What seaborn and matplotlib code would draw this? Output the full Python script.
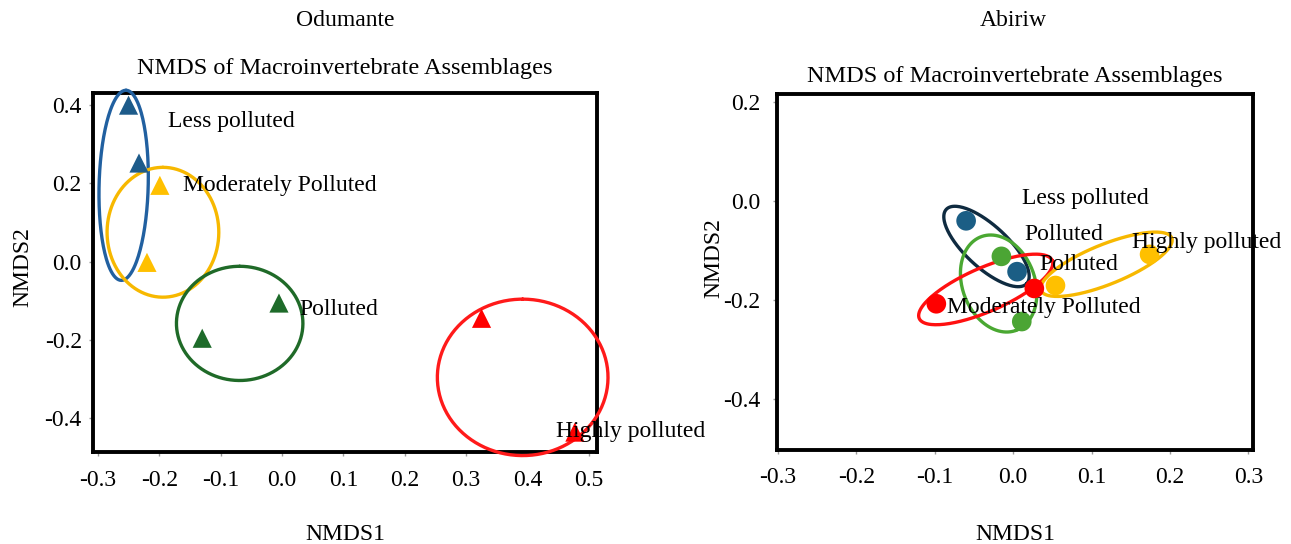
import numpy as np
import pandas as pd
import matplotlib
matplotlib.use("Agg")
import matplotlib.pyplot as plt
import seaborn as sns

# Odumante site scores (triangles)
odu_group = ["Less polluted", "Less polluted", "Moderately Polluted", "Moderately Polluted",
             "Polluted", "Polluted", "Highly polluted", "Highly polluted"]
odu_x = [-0.250, -0.233, -0.199, -0.220, -0.005, -0.130, 0.325, 0.477]
odu_y = [0.400, 0.252, 0.195, -0.002, -0.106, -0.196, -0.145, -0.436]

# Abiriw site scores (circles)
abi_group = ["Less polluted", "Less polluted", "Polluted", "Polluted",
             "Moderately Polluted", "Moderately Polluted", "Highly polluted", "Highly polluted"]
abi_x = [-0.060, 0.005, -0.015, 0.011, -0.098, 0.027, 0.054, 0.174]
abi_y = [-0.040, -0.143, -0.112, -0.244, -0.208, -0.177, -0.171, -0.108]

# group ellipses: centre, semi-axis a (dx, dy), semi-axis b (dx, dy)
odu_ell_group = ["Less polluted", "Moderately Polluted", "Polluted", "Highly polluted"]
odu_ell_c = [(-0.258, 0.195), (-0.194, 0.075), (-0.069, -0.158), (0.392, -0.296)]
odu_ell_a = [(0.004, 0.243), (0.0, 0.166), (0.0, 0.146), (0.0, 0.200)]
odu_ell_b = [(0.040, -0.002), (0.091, 0.0), (0.103, 0.0), (0.139, 0.0)]

abi_ell_group = ["Less polluted", "Polluted", "Moderately Polluted", "Highly polluted"]
abi_ell_c = [(-0.034, -0.092), (-0.0185, -0.167), (-0.035, -0.179), (0.119, -0.128)]
abi_ell_a = [(0.0514, -0.075), (0.022, -0.095), (0.0848, 0.0588), (0.0833, 0.0533)]
abi_ell_b = [(0.018, 0.0317), (0.0435, 0.025), (0.0113, -0.0406), (0.0096, -0.0375)]

# label positions
odu_lab = ["Less polluted", "Moderately Polluted", "Polluted", "Highly polluted"]
odu_lab_x = [-0.186, -0.162, 0.029, 0.446]
odu_lab_y = [0.359, 0.195, -0.122, -0.434]
abi_lab = ["Less polluted", "Polluted", "Polluted", "Highly polluted", "Moderately Polluted"]
abi_lab_x = [0.011, 0.014, 0.034, 0.152, -0.085]
abi_lab_y = [0.005, -0.068, -0.128, -0.084, -0.216]

odu_pts = {"Less polluted": "#1d5b8a", "Moderately Polluted": "#ffc000",
           "Polluted": "#1e6b2a", "Highly polluted": "#ff0000"}
odu_ring = {"Less polluted": "#2160a0", "Moderately Polluted": "#f7b800",
            "Polluted": "#1f6a28", "Highly polluted": "#ff1a1a"}
abi_pts = {"Less polluted": "#1b5e85", "Moderately Polluted": "#ff0000",
           "Polluted": "#4ba534", "Highly polluted": "#ffc000"}
abi_ring = {"Less polluted": "#0f2b40", "Moderately Polluted": "#ff1010",
            "Polluted": "#4aa832", "Highly polluted": "#f7b800"}

sns.set_style("white")
plt.rcParams["font.family"] = ["Liberation Serif", "DejaVu Serif"]
plt.rcParams["text.color"] = "black"
plt.rcParams["axes.labelcolor"] = "black"
plt.rcParams["xtick.color"] = "black"
plt.rcParams["ytick.color"] = "black"

FS = 17


def draw_ellipses(ax, groups, cents, avec, bvec, colors):
    t = np.linspace(0, 2 * np.pi, 200)
    for g, c, a, b in zip(groups, cents, avec, bvec):
        ex = c[0] + a[0] * np.cos(t) + b[0] * np.sin(t)
        ey = c[1] + a[1] * np.cos(t) + b[1] * np.sin(t)
        ax.plot(ex, ey, color=colors[g], lw=2.4, clip_on=False, zorder=3)


def style_axes(ax, xticks, yticks, xpad, ypad, xlab_y, ylab_x, ylab_y, tpad):
    ax.set_xticks(xticks)
    ax.set_yticks(yticks)
    ax.set_xticklabels([f"{v:.1f}" for v in xticks])
    ax.set_yticklabels([f"{v:.1f}" for v in yticks])
    ax.tick_params(axis="both", labelsize=FS, length=3, width=1, direction="out",
                   bottom=True, left=True, colors="black")
    ax.tick_params(axis="x", pad=xpad, color="#999999")
    ax.tick_params(axis="y", pad=ypad, color="#999999")
    for s in ax.spines.values():
        s.set_visible(True)
        s.set_color("black")
        s.set_linewidth(2.8)
    ax.set_xlabel("NMDS1", fontsize=FS)
    ax.set_ylabel("NMDS2", fontsize=FS)
    ax.xaxis.set_label_coords(0.5, xlab_y)
    ax.yaxis.set_label_coords(ylab_x, ylab_y)
    ax.set_title("NMDS of Macroinvertebrate Assemblages", fontsize=17.5, pad=tpad)


fig = plt.figure(figsize=(12.91, 5.44), dpi=100)

# --- Odumante ---
ax1 = fig.add_axes([0.072, 0.169, 0.3904, 0.660])
odu = pd.DataFrame({"x": odu_x, "y": odu_y, "group": odu_group})
draw_ellipses(ax1, odu_ell_group, odu_ell_c, odu_ell_a, odu_ell_b, odu_ring)
sns.scatterplot(data=odu, x="x", y="y", hue="group", palette=odu_pts, marker="^",
                s=190, edgecolor="none", legend=False, ax=ax1, zorder=4, clip_on=False)
for lab, lx, ly in zip(odu_lab, odu_lab_x, odu_lab_y):
    ax1.text(lx, ly, lab, fontsize=FS, ha="left", va="center", zorder=5, clip_on=False)
ax1.set_xlim(-0.308, 0.513)
ax1.set_ylim(-0.487, 0.431)
style_axes(ax1, [-0.3, -0.2, -0.1, 0.0, 0.1, 0.2, 0.3, 0.4, 0.5], [-0.4, -0.2, 0.0, 0.2, 0.4],
           xpad=10, ypad=5, xlab_y=-0.20, ylab_x=-0.118, ylab_y=0.515, tpad=14)
fig.text(345 / 1291, 1 - 21 / 544, "Odumante", fontsize=FS, ha="center", va="center")

# --- Abiriw ---
ax2 = fig.add_axes([0.602, 0.172, 0.3686, 0.6545])
abi = pd.DataFrame({"x": abi_x, "y": abi_y, "group": abi_group})
draw_ellipses(ax2, abi_ell_group, abi_ell_c, abi_ell_a, abi_ell_b, abi_ring)
sns.scatterplot(data=abi, x="x", y="y", hue="group", palette=abi_pts, marker="o",
                s=200, edgecolor="none", legend=False, ax=ax2, zorder=4)
for lab, lx, ly in zip(abi_lab, abi_lab_x, abi_lab_y):
    ax2.text(lx, ly, lab, fontsize=FS, ha="left", va="center", zorder=5, clip_on=False)
ax2.set_xlim(-0.301, 0.306)
ax2.set_ylim(-0.505, 0.216)
style_axes(ax2, [-0.3, -0.2, -0.1, 0.0, 0.1, 0.2, 0.3], [-0.4, -0.2, 0.0, 0.2],
           xpad=9, ypad=9, xlab_y=-0.207, ylab_x=-0.11, ylab_y=0.54, tpad=9)
fig.text(1013 / 1291, 1 - 21 / 544, "Abiriw", fontsize=FS, ha="center", va="center")

fig.savefig("out.png", dpi=100)
